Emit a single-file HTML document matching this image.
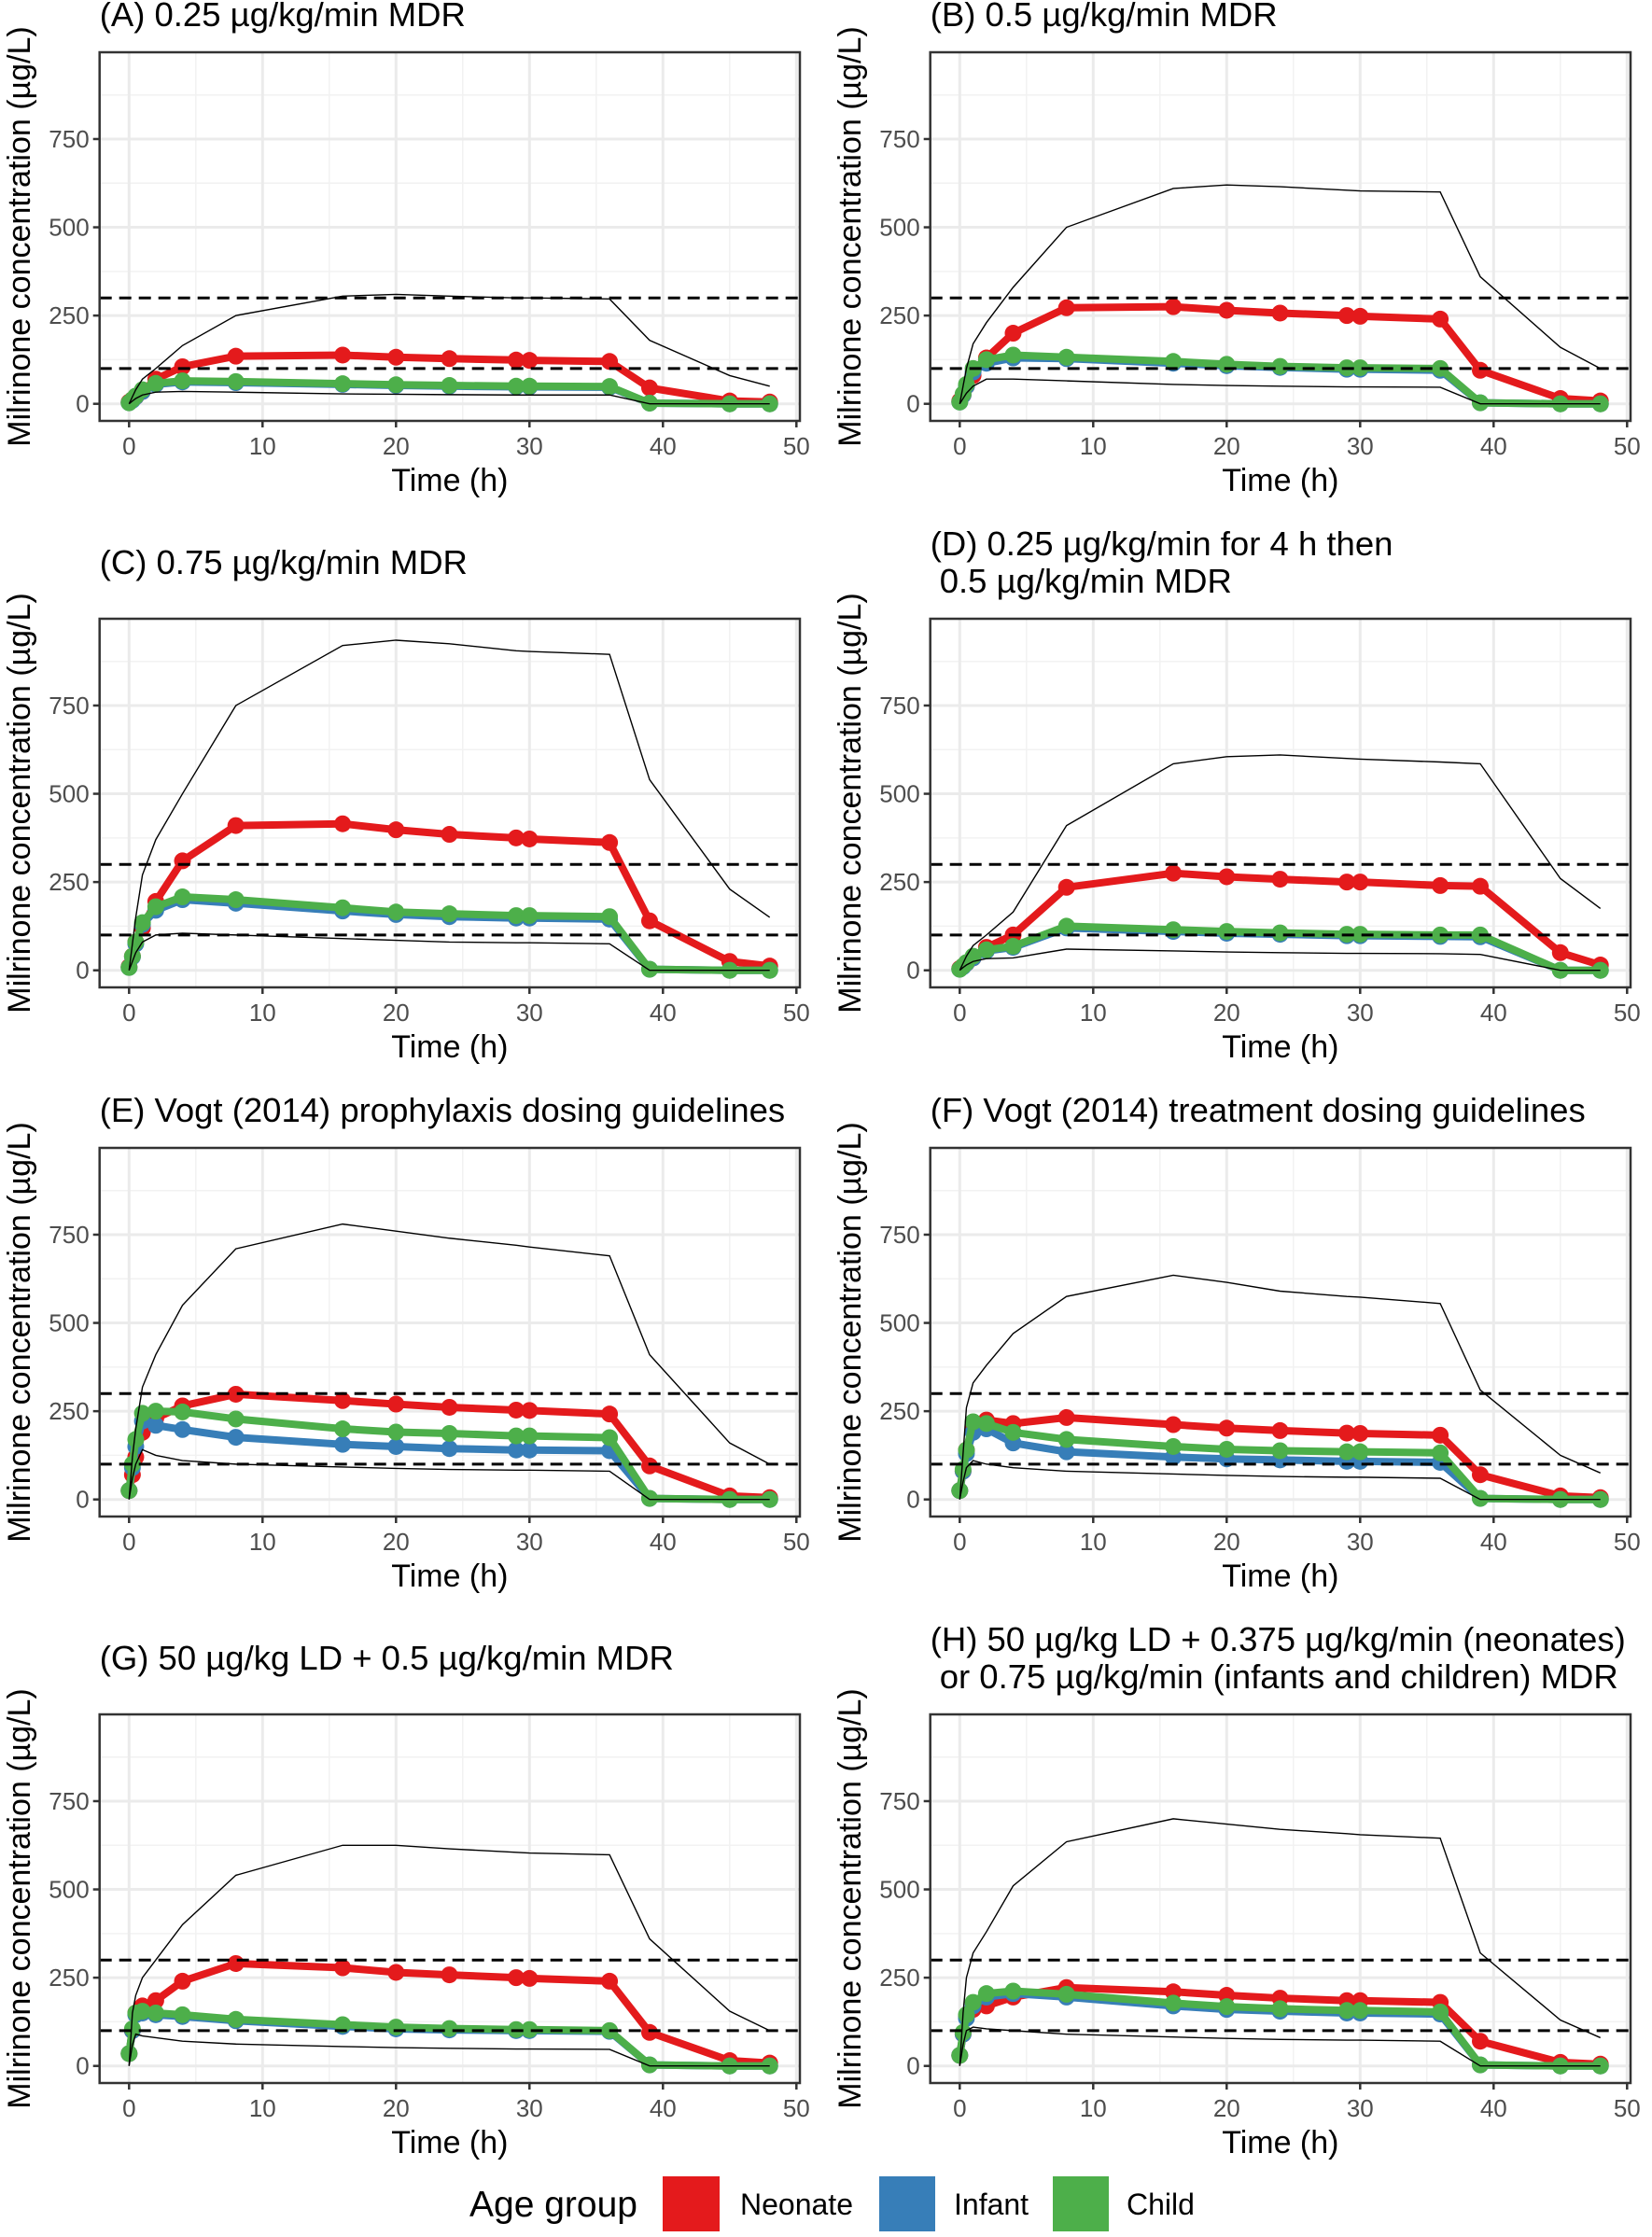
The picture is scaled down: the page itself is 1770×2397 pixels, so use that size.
<!DOCTYPE html>
<html><head><meta charset="utf-8"><style>
html,body{margin:0;padding:0;background:#fff;}
svg{display:block;}
text{font-family:"Liberation Sans",sans-serif;}
</style></head><body>
<svg id="chart" width="1770" height="2397" viewBox="0 0 1770 2397" xmlns="http://www.w3.org/2000/svg">
<rect width="1770" height="2397" fill="#fff"/>
<g id="legend">
<text x="503" y="2375" font-size="39" fill="#000">Age group</text>
<rect x="710" y="2332" width="61" height="59" fill="#E41A1C"/>
<text x="793" y="2373" font-size="32" fill="#000">Neonate</text>
<rect x="942" y="2332" width="60" height="59" fill="#377EB8"/>
<text x="1022" y="2373" font-size="32" fill="#000">Infant</text>
<rect x="1128" y="2332" width="60" height="59" fill="#4DAF4A"/>
<text x="1207" y="2373" font-size="32" fill="#000">Child</text>
</g>
</svg>
<script>
const times = [0,0.25,0.5,1,2,4,8,16,20,24,29,30,36,39,45,48];
const xTicks = [0,10,20,30,40,50];
const yTicks = [0,250,500,750];
const thresholds = [100,300];

const neonateA = [5,12,20,35,70,105,135,138,132,128,124,123,120,45,8,5];
const infantA  = [3,10,20,35,55,62,60,55,52,50,48,48,47,2,0,0];
const childA   = [3,12,22,40,58,65,63,57,54,52,50,50,49,2,0,0];
const upperA   = [0,20,40,70,100,165,250,305,310,305,300,300,297,180,80,50];
const lowerA   = [0,8,15,25,33,35,33,28,27,26,25,25,25,0,0,0];

const neonateB = [8,25,50,80,130,200,272,275,265,257,250,248,240,95,15,8];
const infantB  = [5,25,50,90,115,130,128,115,108,103,98,98,95,3,0,0];
const childB   = [5,28,55,100,125,138,132,120,112,106,102,102,100,3,0,0];
const upperB   = [0,50,100,170,230,330,500,610,620,615,605,603,600,360,160,100];
const lowerB   = [0,15,30,50,70,70,65,55,52,50,48,48,47,0,0,0];

const neonateC = [10,40,80,120,195,310,410,415,398,385,375,372,362,140,25,12];
const infantC  = [8,38,75,130,170,200,190,168,158,152,148,148,145,3,0,0];
const childC   = [8,40,80,135,180,208,200,177,165,160,155,155,152,3,0,0];
const upperC   = [0,75,150,270,370,500,750,920,935,925,905,903,895,540,230,150];
const lowerC   = [0,25,50,80,100,105,100,90,85,80,78,78,75,0,0,0];

const neonateD = [5,12,20,35,65,100,235,275,265,258,250,250,240,238,50,15];
const infantD  = [3,10,20,35,55,65,120,110,105,102,98,98,96,95,0,0];
const childD   = [3,12,22,40,58,68,125,115,110,106,102,102,100,100,0,0];
const upperD   = [0,20,40,70,100,165,410,585,605,610,600,598,590,585,260,175];
const lowerD   = [0,8,15,25,33,35,60,55,52,50,48,48,47,45,0,0];

const neonateE = [25,70,120,190,230,265,298,280,270,261,253,252,242,95,10,5];
const infantE  = [25,90,150,222,210,198,176,156,150,144,140,140,138,3,0,0];
const childE   = [25,100,170,244,250,248,228,200,191,187,180,180,175,3,0,0];
const upperE   = [0,120,200,318,410,550,710,780,760,740,720,715,690,410,160,100];
const lowerE   = [0,60,100,141,125,110,100,92,88,85,83,83,80,0,0,0];

const neonateF = [25,80,140,210,225,215,232,212,202,195,188,187,182,70,10,5];
const infantF  = [25,80,130,190,200,160,135,120,115,112,108,108,105,3,0,0];
const childF   = [25,85,140,220,215,190,170,150,142,138,135,135,132,3,0,0];
const upperF   = [0,130,260,330,380,470,575,635,615,590,575,573,555,310,125,75];
const lowerF   = [0,50,90,110,100,90,80,72,68,65,63,63,60,0,0,0];

const neonateG = [35,100,150,170,185,240,290,278,265,258,250,248,240,95,15,8];
const infantG  = [35,100,145,150,145,140,128,112,105,102,100,100,98,3,0,0];
const childG   = [35,105,150,155,150,145,132,117,110,106,103,103,100,3,0,0];
const upperG   = [0,150,200,250,300,400,540,625,625,615,605,603,598,360,155,100];
const lowerG   = [0,60,90,85,80,70,62,55,52,50,48,48,47,0,0,0];

const neonateH = [30,90,140,160,170,195,222,210,200,192,185,185,180,70,10,5];
const infantH  = [30,90,135,170,195,205,195,170,160,155,150,150,147,3,0,0];
const childH   = [30,95,145,180,205,212,203,178,168,162,157,157,153,3,0,0];
const upperH   = [0,150,250,320,380,510,635,700,685,670,658,655,645,320,130,80];
const lowerH   = [0,60,100,110,105,100,90,82,78,75,73,73,70,0,0,0];

const panelTitles = [
 ["(A) 0.25 \u00b5g/kg/min MDR"],
 ["(B) 0.5 \u00b5g/kg/min MDR"],
 ["(C) 0.75 \u00b5g/kg/min MDR"],
 ["(D) 0.25 \u00b5g/kg/min for 4 h then"," 0.5 \u00b5g/kg/min MDR"],
 ["(E) Vogt (2014) prophylaxis dosing guidelines"],
 ["(F) Vogt (2014) treatment dosing guidelines"],
 ["(G) 50 \u00b5g/kg LD + 0.5 \u00b5g/kg/min MDR"],
 ["(H) 50 \u00b5g/kg LD + 0.375 \u00b5g/kg/min (neonates)"," or 0.75 \u00b5g/kg/min (infants and children) MDR"]
];

const panels = [
 {id:'a', n:neonateA, i:infantA, c:childA, u:upperA, l:lowerA},
 {id:'b', n:neonateB, i:infantB, c:childB, u:upperB, l:lowerB},
 {id:'c', n:neonateC, i:infantC, c:childC, u:upperC, l:lowerC},
 {id:'d', n:neonateD, i:infantD, c:childD, u:upperD, l:lowerD},
 {id:'e', n:neonateE, i:infantE, c:childE, u:upperE, l:lowerE},
 {id:'f', n:neonateF, i:infantF, c:childF, u:upperF, l:lowerF},
 {id:'g', n:neonateG, i:infantG, c:childG, u:upperG, l:lowerG},
 {id:'h', n:neonateH, i:infantH, c:childH, u:upperH, l:lowerH}
];

const NS = 'http://www.w3.org/2000/svg';
const svg = document.getElementById('chart');
const legend = document.getElementById('legend');
function mk(tag, attrs, parent){
  const e = document.createElementNS(NS, tag);
  for (const k in attrs) e.setAttribute(k, attrs[k]);
  parent.appendChild(e);
  return e;
}
const rowTops = [56, 663, 1230, 1837];
const colDx = [0, 890];
const boxH = 395;

panels.forEach((p, idx) => {
  const row = Math.floor(idx/2), col = idx%2;
  const dx = colDx[col], top = rowTops[row];
  const left = 106.7 + dx, right = 857 + dx, bottom = top + boxH;
  const y0px = top + 376.7;
  const xs = t => 138.3 + dx + t * 14.3;
  const ys = v => y0px - v * 0.3783;

  const g = mk('g', {}, svg);
  
  
  svg.insertBefore(g, legend);

  for (let t = 5; t < 50; t += 10) {
    const ln = mk('line', {x1:xs(t), x2:xs(t), y1:top, y2:bottom, stroke:'#f2f2f2', 'stroke-width':1.5}, g);
    
    
  }
  for (let v = 125; v < 1000; v += 250) {
    const ln = mk('line', {x1:left, x2:right, y1:ys(v), y2:ys(v), stroke:'#f2f2f2', 'stroke-width':1.5}, g);
    
    
  }
  xTicks.forEach(t => {
    const ln = mk('line', {x1:xs(t), x2:xs(t), y1:top, y2:bottom, stroke:'#ebebeb', 'stroke-width':3}, g);
    
    
    const tk = mk('line', {x1:xs(t), x2:xs(t), y1:bottom, y2:bottom+7, stroke:'#333', 'stroke-width':2.5}, g);
    
    
    const tx = mk('text', {x:xs(t), y:bottom+36, 'font-size':26, fill:'#4d4d4d', 'text-anchor':'middle'}, g);
    tx.textContent = t;
    
    
  });
  yTicks.forEach(v => {
    const ln = mk('line', {x1:left, x2:right, y1:ys(v), y2:ys(v), stroke:'#ebebeb', 'stroke-width':3}, g);
    
    
    const tk = mk('line', {x1:left-7, x2:left, y1:ys(v), y2:ys(v), stroke:'#333', 'stroke-width':2.5}, g);
    
    
    const tx = mk('text', {x:left-11, y:ys(v)+9, 'font-size':26, fill:'#4d4d4d', 'text-anchor':'end'}, g);
    tx.textContent = v;
    
    
  });

  const clipId = 'clip-' + p.id;
  const cp = mk('clipPath', {id:clipId}, g);
  mk('rect', {x:left, y:top, width:right-left, height:boxH}, cp);
  const plot = mk('g', {'clip-path':'url(#' + clipId + ')'}, g);
  
  

  const series = [['neonate', p.n, '#E41A1C'], ['infant', p.i, '#377EB8'], ['child', p.c, '#4DAF4A']];
  series.forEach(s => {
    const pts = times.map((t, k) => xs(t) + ',' + ys(s[1][k])).join(' ');
    const pl = mk('polyline', {points:pts, fill:'none', stroke:s[2], 'stroke-width':8, 'stroke-linejoin':'round'}, plot);
    
    
    times.forEach((t, k) => {
      const c = mk('circle', {cx:xs(t), cy:ys(s[1][k]), r:9, fill:s[2]}, plot);
      
      
    });
  });
  [['upper', p.u], ['lower', p.l]].forEach(b => {
    const pts = times.map((t, k) => xs(t) + ',' + ys(b[1][k])).join(' ');
    const pl = mk('polyline', {points:pts, fill:'none', stroke:'#000', 'stroke-width':1.4}, plot);
    
    
  });
  thresholds.forEach(v => {
    const ln = mk('line', {x1:left, x2:right, y1:ys(v), y2:ys(v), stroke:'#000', 'stroke-width':3, 'stroke-dasharray':'13 8'}, plot);
    
    
  });

  const box = mk('rect', {x:left, y:top, width:right-left, height:boxH, fill:'none', stroke:'#333', 'stroke-width':2.5}, g);
  
  

  const lines = panelTitles[idx];
  const pairRow = (row === 1 || row === 3);
  const baselines = lines.length === 2 ? [top-68, top-28] : (pairRow ? [top-48] : [top-28]);
  lines.forEach((s, k) => {
    const indent = s.startsWith(' ') ? 10 : 0;
    const tt = mk('text', {x:left + indent, y:baselines[k], 'font-size':36.5, fill:'#000'}, g);
    tt.textContent = s.trim();
    
    
  });

  const xt = mk('text', {x:(left+right)/2, y:bottom+75, 'font-size':34, fill:'#000', 'text-anchor':'middle'}, g);
  xt.textContent = 'Time (h)';
  
  
  const cy = (top+bottom)/2, cx = 32 + dx;
  const yt = mk('text', {x:cx, y:cy, 'font-size':34, fill:'#000', 'text-anchor':'middle', transform:'rotate(-90 ' + cx + ' ' + cy + ')'}, g);
  yt.textContent = 'Milrinone concentration (\u00b5g/L)';
  
  
});
</script>
</body></html>
